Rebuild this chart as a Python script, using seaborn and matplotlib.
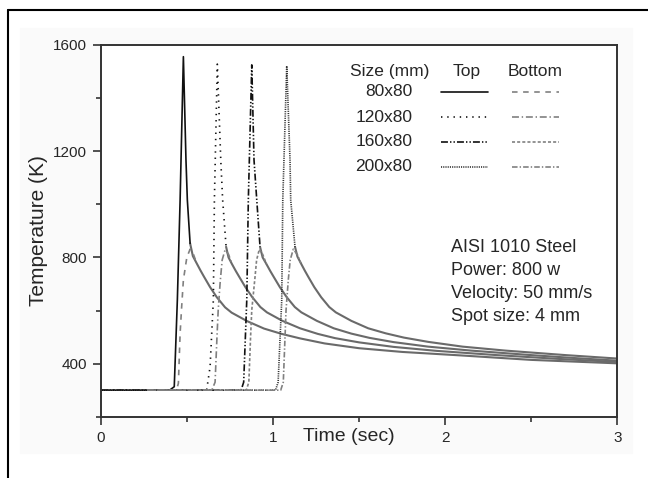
import matplotlib
matplotlib.use("Agg")
import matplotlib.pyplot as plt
import matplotlib.patches as mpatches
import seaborn as sns

sizes = ["80x80", "120x80", "160x80", "200x80"]

# top surface: rise, spike and drop to the shoulder
top_80_t = [0.0, 0.40, 0.427, 0.445, 0.461, 0.480, 0.495, 0.503, 0.519]
top_80_T = [300, 300, 313, 640, 1016, 1556, 1167, 1016, 853]
top_120_t = [0.0, 0.615, 0.635, 0.654, 0.660, 0.677, 0.697, 0.708, 0.728]
top_120_T = [300, 300, 388, 640, 1016, 1528, 1167, 1016, 840]
top_160_t = [0.0, 0.815, 0.830, 0.848, 0.857, 0.877, 0.890, 0.906, 0.925]
top_160_T = [300, 300, 330, 640, 1016, 1525, 1167, 1016, 840]
top_200_t = [0.0, 1.015, 1.030, 1.051, 1.057, 1.080, 1.099, 1.103, 1.128]
top_200_T = [300, 300, 330, 640, 1016, 1521, 1167, 1016, 840]

# bottom surface: rise to the ~830 K hump
bot_80_t = [0.27, 0.44, 0.451, 0.461, 0.470, 0.480, 0.500, 0.519, 0.535, 0.557]
bot_80_T = [300, 300, 326, 514, 614, 715, 800, 831, 818, 778]
bot_120_t = [0.27, 0.645, 0.664, 0.675, 0.682, 0.693, 0.705, 0.722, 0.742, 0.762]
bot_120_T = [300, 300, 330, 500, 600, 702, 790, 828, 812, 775]
bot_160_t = [0.27, 0.845, 0.860, 0.870, 0.877, 0.896, 0.905, 0.921, 0.940, 0.962]
bot_160_T = [300, 300, 330, 500, 602, 727, 790, 831, 812, 775]
bot_200_t = [0.27, 1.045, 1.060, 1.070, 1.076, 1.089, 1.100, 1.118, 1.142, 1.162]
bot_200_T = [300, 300, 330, 500, 602, 715, 790, 831, 810, 778]

# cooling part where top and bottom coincide
dec_80_t = [0.519, 0.535, 0.557, 0.58, 0.60, 0.635, 0.674, 0.722, 0.76, 0.85, 0.948,
            1.05, 1.157, 1.3, 1.5, 1.75, 2.087, 2.5, 3.0]
dec_80_T = [853, 805, 778, 750, 727, 688, 650, 612, 592, 560, 532,
            512, 495, 476, 458, 444, 431, 414, 401]
dec_120_t = [0.728, 0.742, 0.762, 0.785, 0.805, 0.84, 0.88, 0.927, 0.965, 1.055, 1.157,
             1.26, 1.36, 1.5, 1.7, 1.95, 2.3, 2.65, 3.0]
dec_120_T = [840, 800, 775, 748, 726, 688, 650, 613, 593, 561, 533,
             512, 496, 480, 463, 448, 432, 418, 406]
dec_160_t = [0.925, 0.94, 0.962, 0.985, 1.005, 1.04, 1.08, 1.127, 1.165, 1.255, 1.353,
             1.455, 1.56, 1.7, 1.9, 2.15, 2.5, 2.75, 3.0]
dec_160_T = [840, 800, 775, 748, 726, 688, 650, 613, 593, 561, 533,
             513, 497, 481, 464, 449, 432, 421, 411]
dec_200_t = [1.128, 1.142, 1.162, 1.185, 1.205, 1.24, 1.28, 1.327, 1.365, 1.455, 1.553,
             1.655, 1.76, 1.9, 2.1, 2.35, 2.7, 3.0]
dec_200_T = [840, 803, 778, 750, 727, 688, 650, 613, 593, 561, 533,
             514, 498, 482, 464, 449, 432, 419]

tops = [(top_80_t, top_80_T), (top_120_t, top_120_T), (top_160_t, top_160_T), (top_200_t, top_200_T)]
bots = [(bot_80_t, bot_80_T), (bot_120_t, bot_120_T), (bot_160_t, bot_160_T), (bot_200_t, bot_200_T)]
decs = [(dec_80_t, dec_80_T), (dec_120_t, dec_120_T), (dec_160_t, dec_160_T), (dec_200_t, dec_200_T)]

top_styles = ["-", (0, (1, 3.5)), (0, (5, 1.5, 1, 1.5, 1, 1.5)), (0, (0.8, 0.8))]
top_colors = ["#111111", "#111111", "#111111", "#333333"]
bot_styles = [(0, (4, 4)), (0, (5, 2, 1, 2)), (0, (2.2, 1.5)), (0, (4, 1.5, 1, 1.5))]
bot_color = "#808080"

sns.set_theme(style="ticks")
plt.rcParams["font.family"] = ["Liberation Sans", "DejaVu Sans"]
plt.rcParams["lines.scale_dashes"] = False

fig = plt.figure(figsize=(6.48, 4.78), dpi=100)
fig.patches.append(mpatches.Rectangle((20 / 648, 25 / 478), 612 / 648, 425 / 478,
                                      transform=fig.transFigure, color="#fafafa", zorder=-10))
ax = fig.add_axes([0.1554, 0.1282, 0.7975, 0.7777])

for t, T in decs:
    sns.lineplot(x=t, y=T, ax=ax, color="#6a6a6a", lw=1.5, estimator=None, sort=False)
for (t, T), ls, c in zip(tops, top_styles, top_colors):
    sns.lineplot(x=t, y=T, ax=ax, color=c, lw=1.2, linestyle=ls, estimator=None, sort=False)
for (t, T), ls in zip(bots, bot_styles):
    sns.lineplot(x=t, y=T, ax=ax, color=bot_color, lw=1.2, linestyle=ls, estimator=None, sort=False)

ax.set_xlim(0, 3)
ax.set_ylim(200, 1600)
ax.set_xticks([0, 1, 2, 3])
ax.set_xticks([0.5, 1.5, 2.5], minor=True)
ax.set_yticks([400, 800, 1200, 1600])
ax.set_yticks([200, 600, 1000, 1400], minor=True)
ax.tick_params(which="major", direction="out", length=6, width=1.2, color="#333333",
               labelsize=11, pad=4)
ax.tick_params(which="minor", direction="out", length=3.5, width=1.2, color="#333333")
for s in ax.spines.values():
    s.set_color("#333333")
    s.set_linewidth(1.4)

ax.set_xlabel("Time (sec)", fontsize=14)
ax.xaxis.set_label_coords(0.48, -0.03)
ax.set_ylabel("Temperature (K)", fontsize=15)
ax.yaxis.set_label_coords(-0.102, 0.5)

# legend table
fs = 12.5
ax.text(0.559, 0.929, "Size (mm)", transform=ax.transAxes, ha="center", va="center", fontsize=fs)
ax.text(0.709, 0.929, "Top", transform=ax.transAxes, ha="center", va="center", fontsize=fs)
ax.text(0.841, 0.929, "Bottom", transform=ax.transAxes, ha="center", va="center", fontsize=fs)
rows_y = [0.874, 0.805, 0.740, 0.673]
for name, yy, tls, tc, bls in zip(sizes, rows_y, top_styles, top_colors, bot_styles):
    ax.text(0.603, yy, name, transform=ax.transAxes, ha="right", va="center", fontsize=fs)
    ax.plot([0.659, 0.750], [yy, yy], transform=ax.transAxes, color=tc, lw=1.2, linestyle=tls)
    ax.plot([0.796, 0.887], [yy, yy], transform=ax.transAxes, color=bot_color, lw=1.2, linestyle=bls)

ax.text(0.678, 0.478, "AISI 1010 Steel\nPower: 800 w\nVelocity: 50 mm/s\nSpot size: 4 mm",
        transform=ax.transAxes, ha="left", va="top", fontsize=13, linespacing=1.45)

# outer frame (left and top)
fig.lines.append(plt.Line2D([8 / 648, 8 / 648], [0, 1 - 10 / 478], transform=fig.transFigure,
                            color="black", lw=1.5))
fig.lines.append(plt.Line2D([8 / 648, 1], [1 - 10 / 478, 1 - 10 / 478], transform=fig.transFigure,
                            color="black", lw=1.5))

fig.savefig("out.png", dpi=100)
